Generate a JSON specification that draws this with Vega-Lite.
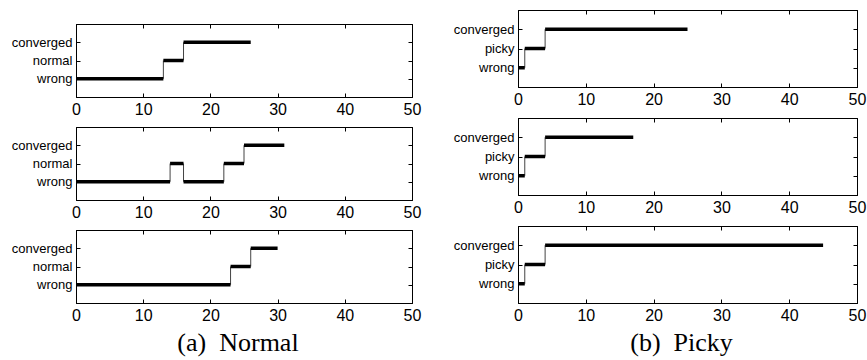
{
  "$schema": "https://vega.github.io/schema/vega-lite/v6.json",
  "padding": {"left": 10, "top": 9, "right": 0, "bottom": 0},
  "background": "white",
  "datasets": {
    "normal": [
      {"run": 1, "start": 0, "end": 13, "state": "wrong"},
      {"run": 1, "start": 13, "end": 16, "state": "normal", "prev": "wrong"},
      {"run": 1, "start": 16, "end": 26, "state": "converged", "prev": "normal"},
      {"run": 2, "start": 0, "end": 14, "state": "wrong"},
      {"run": 2, "start": 14, "end": 16, "state": "normal", "prev": "wrong"},
      {"run": 2, "start": 16, "end": 22, "state": "wrong", "prev": "normal"},
      {"run": 2, "start": 22, "end": 25, "state": "normal", "prev": "wrong"},
      {"run": 2, "start": 25, "end": 31, "state": "converged", "prev": "normal"},
      {"run": 3, "start": 0, "end": 23, "state": "wrong"},
      {"run": 3, "start": 23, "end": 26, "state": "normal", "prev": "wrong"},
      {"run": 3, "start": 26, "end": 30, "state": "converged", "prev": "normal"}
    ],
    "picky": [
      {"run": 1, "start": 0, "end": 1, "state": "wrong"},
      {"run": 1, "start": 1, "end": 4, "state": "picky", "prev": "wrong"},
      {"run": 1, "start": 4, "end": 25, "state": "converged", "prev": "picky"},
      {"run": 2, "start": 0, "end": 1, "state": "wrong"},
      {"run": 2, "start": 1, "end": 4, "state": "picky", "prev": "wrong"},
      {"run": 2, "start": 4, "end": 17, "state": "converged", "prev": "picky"},
      {"run": 3, "start": 0, "end": 1, "state": "wrong"},
      {"run": 3, "start": 1, "end": 4, "state": "picky", "prev": "wrong"},
      {"run": 3, "start": 4, "end": 45, "state": "converged", "prev": "picky"}
    ]
  },
  "columns": 2,
  "spacing": 30,
  "concat": [
    {
      "data": {"name": "normal"},
      "spacing": 0,
      "bounds": "flush",
      "vconcat": [
        {
          "data": {"values": []},
          "width": 336, "height": 14,
          "view": {"stroke": null},
          "mark": {"type": "rule", "opacity": 0},
          "encoding": {}
        },
        {
          "spacing": 30,
          "bounds": "flush",
          "vconcat": [
            {
              "width": 336, "height": 73,
              "transform": [{"filter": "datum.run == 1"}],
              "layer": [
                {"mark": {"type": "rule", "strokeWidth": 1, "color": "#444"},
                 "transform": [{"filter": "datum.prev != null"}],
                 "encoding": {
                   "x": {"field": "start", "type": "quantitative", "scale": {"domain": [0, 50], "nice": false, "zero": false}, "axis": {"orient": "bottom", "values": [0, 10, 20, 30, 40, 50], "tickSize": -4, "labelPadding": 8, "labelFontSize": 16, "labelFont": "Liberation Sans", "labelColor": "#000", "domainColor": "#000", "tickColor": "#000", "grid": false, "title": null, "labelFlush": false}},
                   "y": {"field": "prev", "type": "nominal", "scale": {"type": "point", "padding": 1, "domain": ["converged", "normal", "wrong"]}, "axis": {"orient": "left", "tickSize": -4, "labelPadding": 8, "labelFontSize": 13, "labelFont": "Liberation Sans", "labelColor": "#000", "domainColor": "#000", "tickColor": "#000", "grid": false, "title": null}},
                   "y2": {"field": "state"}
                 }},
                {"mark": {"type": "rule", "strokeWidth": 3.5, "color": "#000"},
                 "encoding": {
                   "x": {"field": "start", "type": "quantitative", "scale": {"domain": [0, 50], "nice": false, "zero": false}, "axis": {"orient": "top", "values": [0, 10, 20, 30, 40, 50], "tickSize": -4, "labels": false, "domainColor": "#000", "tickColor": "#000", "grid": false, "title": null}},
                   "x2": {"field": "end"},
                   "y": {"field": "state", "type": "nominal", "scale": {"type": "point", "padding": 1, "domain": ["converged", "normal", "wrong"]}, "axis": {"orient": "right", "tickSize": -4, "labels": false, "domainColor": "#000", "tickColor": "#000", "grid": false, "title": null}}
                 }}
              ],
              "resolve": {"axis": {"x": "independent", "y": "independent"}}
            },
            {
              "width": 336, "height": 73,
              "transform": [{"filter": "datum.run == 2"}],
              "layer": [
                {"mark": {"type": "rule", "strokeWidth": 1, "color": "#444"},
                 "transform": [{"filter": "datum.prev != null"}],
                 "encoding": {
                   "x": {"field": "start", "type": "quantitative", "scale": {"domain": [0, 50], "nice": false, "zero": false}, "axis": {"orient": "bottom", "values": [0, 10, 20, 30, 40, 50], "tickSize": -4, "labelPadding": 8, "labelFontSize": 16, "labelFont": "Liberation Sans", "labelColor": "#000", "domainColor": "#000", "tickColor": "#000", "grid": false, "title": null, "labelFlush": false}},
                   "y": {"field": "prev", "type": "nominal", "scale": {"type": "point", "padding": 1, "domain": ["converged", "normal", "wrong"]}, "axis": {"orient": "left", "tickSize": -4, "labelPadding": 8, "labelFontSize": 13, "labelFont": "Liberation Sans", "labelColor": "#000", "domainColor": "#000", "tickColor": "#000", "grid": false, "title": null}},
                   "y2": {"field": "state"}
                 }},
                {"mark": {"type": "rule", "strokeWidth": 3.5, "color": "#000"},
                 "encoding": {
                   "x": {"field": "start", "type": "quantitative", "scale": {"domain": [0, 50], "nice": false, "zero": false}, "axis": {"orient": "top", "values": [0, 10, 20, 30, 40, 50], "tickSize": -4, "labels": false, "domainColor": "#000", "tickColor": "#000", "grid": false, "title": null}},
                   "x2": {"field": "end"},
                   "y": {"field": "state", "type": "nominal", "scale": {"type": "point", "padding": 1, "domain": ["converged", "normal", "wrong"]}, "axis": {"orient": "right", "tickSize": -4, "labels": false, "domainColor": "#000", "tickColor": "#000", "grid": false, "title": null}}
                 }}
              ],
              "resolve": {"axis": {"x": "independent", "y": "independent"}}
            },
            {
              "title": {"text": "(a)\u00a0 Normal", "orient": "bottom", "frame": "group", "anchor": "middle", "font": "Liberation Serif", "fontSize": 26, "fontWeight": "normal", "color": "#000", "offset": 7, "dx": -6},
              "width": 336, "height": 73,
              "transform": [{"filter": "datum.run == 3"}],
              "layer": [
                {"mark": {"type": "rule", "strokeWidth": 1, "color": "#444"},
                 "transform": [{"filter": "datum.prev != null"}],
                 "encoding": {
                   "x": {"field": "start", "type": "quantitative", "scale": {"domain": [0, 50], "nice": false, "zero": false}, "axis": {"orient": "bottom", "values": [0, 10, 20, 30, 40, 50], "tickSize": -4, "labelPadding": 8, "labelFontSize": 16, "labelFont": "Liberation Sans", "labelColor": "#000", "domainColor": "#000", "tickColor": "#000", "grid": false, "title": null, "labelFlush": false}},
                   "y": {"field": "prev", "type": "nominal", "scale": {"type": "point", "padding": 1, "domain": ["converged", "normal", "wrong"]}, "axis": {"orient": "left", "tickSize": -4, "labelPadding": 8, "labelFontSize": 13, "labelFont": "Liberation Sans", "labelColor": "#000", "domainColor": "#000", "tickColor": "#000", "grid": false, "title": null}},
                   "y2": {"field": "state"}
                 }},
                {"mark": {"type": "rule", "strokeWidth": 3.5, "color": "#000"},
                 "encoding": {
                   "x": {"field": "start", "type": "quantitative", "scale": {"domain": [0, 50], "nice": false, "zero": false}, "axis": {"orient": "top", "values": [0, 10, 20, 30, 40, 50], "tickSize": -4, "labels": false, "domainColor": "#000", "tickColor": "#000", "grid": false, "title": null}},
                   "x2": {"field": "end"},
                   "y": {"field": "state", "type": "nominal", "scale": {"type": "point", "padding": 1, "domain": ["converged", "normal", "wrong"]}, "axis": {"orient": "right", "tickSize": -4, "labels": false, "domainColor": "#000", "tickColor": "#000", "grid": false, "title": null}}
                 }}
              ],
              "resolve": {"axis": {"x": "independent", "y": "independent"}}
            }
          ]
        }
      ]
    },
    {
      "data": {"name": "picky"},
      "spacing": 31,
      "bounds": "flush",
      "vconcat": [
        {
          "width": 339, "height": 77,
          "transform": [{"filter": "datum.run == 1"}],
          "layer": [
            {"mark": {"type": "rule", "strokeWidth": 1, "color": "#444"},
             "transform": [{"filter": "datum.prev != null"}],
             "encoding": {
               "x": {"field": "start", "type": "quantitative", "scale": {"domain": [0, 50], "nice": false, "zero": false}, "axis": {"orient": "bottom", "values": [0, 10, 20, 30, 40, 50], "tickSize": -4, "labelPadding": 8, "labelFontSize": 16, "labelFont": "Liberation Sans", "labelColor": "#000", "domainColor": "#000", "tickColor": "#000", "grid": false, "title": null, "labelFlush": false}},
               "y": {"field": "prev", "type": "nominal", "scale": {"type": "point", "padding": 1, "domain": ["converged", "picky", "wrong"]}, "axis": {"orient": "left", "tickSize": -4, "labelPadding": 8, "labelFontSize": 13, "labelFont": "Liberation Sans", "labelColor": "#000", "domainColor": "#000", "tickColor": "#000", "grid": false, "title": null}},
               "y2": {"field": "state"}
             }},
            {"mark": {"type": "rule", "strokeWidth": 3.5, "color": "#000"},
             "encoding": {
               "x": {"field": "start", "type": "quantitative", "scale": {"domain": [0, 50], "nice": false, "zero": false}, "axis": {"orient": "top", "values": [0, 10, 20, 30, 40, 50], "tickSize": -4, "labels": false, "domainColor": "#000", "tickColor": "#000", "grid": false, "title": null}},
               "x2": {"field": "end"},
               "y": {"field": "state", "type": "nominal", "scale": {"type": "point", "padding": 1, "domain": ["converged", "picky", "wrong"]}, "axis": {"orient": "right", "tickSize": -4, "labels": false, "domainColor": "#000", "tickColor": "#000", "grid": false, "title": null}}
             }}
          ],
          "resolve": {"axis": {"x": "independent", "y": "independent"}}
        },
        {
          "width": 339, "height": 77,
          "transform": [{"filter": "datum.run == 2"}],
          "layer": [
            {"mark": {"type": "rule", "strokeWidth": 1, "color": "#444"},
             "transform": [{"filter": "datum.prev != null"}],
             "encoding": {
               "x": {"field": "start", "type": "quantitative", "scale": {"domain": [0, 50], "nice": false, "zero": false}, "axis": {"orient": "bottom", "values": [0, 10, 20, 30, 40, 50], "tickSize": -4, "labelPadding": 8, "labelFontSize": 16, "labelFont": "Liberation Sans", "labelColor": "#000", "domainColor": "#000", "tickColor": "#000", "grid": false, "title": null, "labelFlush": false}},
               "y": {"field": "prev", "type": "nominal", "scale": {"type": "point", "padding": 1, "domain": ["converged", "picky", "wrong"]}, "axis": {"orient": "left", "tickSize": -4, "labelPadding": 8, "labelFontSize": 13, "labelFont": "Liberation Sans", "labelColor": "#000", "domainColor": "#000", "tickColor": "#000", "grid": false, "title": null}},
               "y2": {"field": "state"}
             }},
            {"mark": {"type": "rule", "strokeWidth": 3.5, "color": "#000"},
             "encoding": {
               "x": {"field": "start", "type": "quantitative", "scale": {"domain": [0, 50], "nice": false, "zero": false}, "axis": {"orient": "top", "values": [0, 10, 20, 30, 40, 50], "tickSize": -4, "labels": false, "domainColor": "#000", "tickColor": "#000", "grid": false, "title": null}},
               "x2": {"field": "end"},
               "y": {"field": "state", "type": "nominal", "scale": {"type": "point", "padding": 1, "domain": ["converged", "picky", "wrong"]}, "axis": {"orient": "right", "tickSize": -4, "labels": false, "domainColor": "#000", "tickColor": "#000", "grid": false, "title": null}}
             }}
          ],
          "resolve": {"axis": {"x": "independent", "y": "independent"}}
        },
        {
          "title": {"text": "(b)\u00a0 Picky", "orient": "bottom", "frame": "group", "anchor": "middle", "font": "Liberation Serif", "fontSize": 26, "fontWeight": "normal", "color": "#000", "offset": 7, "dx": -6},
          "width": 339, "height": 77,
          "transform": [{"filter": "datum.run == 3"}],
          "layer": [
            {"mark": {"type": "rule", "strokeWidth": 1, "color": "#444"},
             "transform": [{"filter": "datum.prev != null"}],
             "encoding": {
               "x": {"field": "start", "type": "quantitative", "scale": {"domain": [0, 50], "nice": false, "zero": false}, "axis": {"orient": "bottom", "values": [0, 10, 20, 30, 40, 50], "tickSize": -4, "labelPadding": 8, "labelFontSize": 16, "labelFont": "Liberation Sans", "labelColor": "#000", "domainColor": "#000", "tickColor": "#000", "grid": false, "title": null, "labelFlush": false}},
               "y": {"field": "prev", "type": "nominal", "scale": {"type": "point", "padding": 1, "domain": ["converged", "picky", "wrong"]}, "axis": {"orient": "left", "tickSize": -4, "labelPadding": 8, "labelFontSize": 13, "labelFont": "Liberation Sans", "labelColor": "#000", "domainColor": "#000", "tickColor": "#000", "grid": false, "title": null}},
               "y2": {"field": "state"}
             }},
            {"mark": {"type": "rule", "strokeWidth": 3.5, "color": "#000"},
             "encoding": {
               "x": {"field": "start", "type": "quantitative", "scale": {"domain": [0, 50], "nice": false, "zero": false}, "axis": {"orient": "top", "values": [0, 10, 20, 30, 40, 50], "tickSize": -4, "labels": false, "domainColor": "#000", "tickColor": "#000", "grid": false, "title": null}},
               "x2": {"field": "end"},
               "y": {"field": "state", "type": "nominal", "scale": {"type": "point", "padding": 1, "domain": ["converged", "picky", "wrong"]}, "axis": {"orient": "right", "tickSize": -4, "labels": false, "domainColor": "#000", "tickColor": "#000", "grid": false, "title": null}}
             }}
          ],
          "resolve": {"axis": {"x": "independent", "y": "independent"}}
        }
      ]
    }
  ],
  "config": {"view": {"stroke": "#000", "strokeWidth": 1}}
}
